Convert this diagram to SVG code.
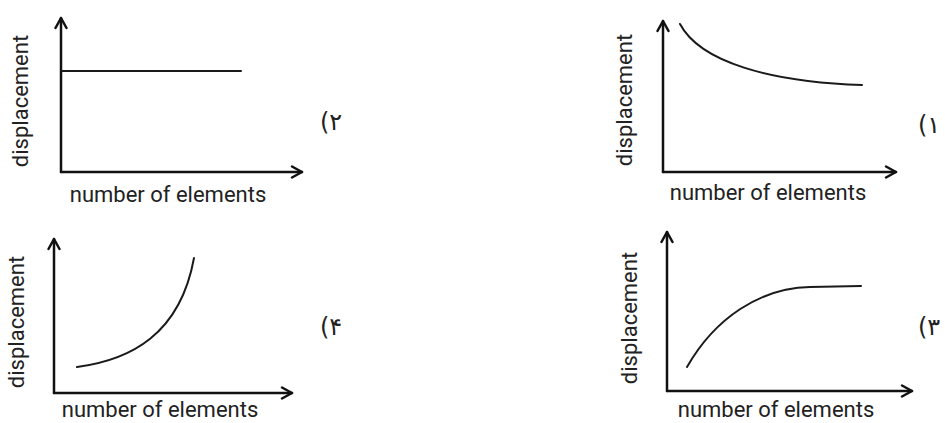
<svg xmlns="http://www.w3.org/2000/svg" width="945" height="423" viewBox="0 0 945 423">
  <style>
    .axis { fill: none; stroke: #111; stroke-width: 2.5; stroke-linecap: round; }
    .curve { fill: none; stroke: #1a1a1a; stroke-width: 2; stroke-linecap: round; }
    .lbl { font-family: Roboto, "Liberation Sans", sans-serif; font-size: 22px; fill: #222; }
    .num { font-family: "DejaVu Sans", sans-serif; font-size: 24px; fill: #222; }
  </style>
  <defs>
    <marker id="arr" viewBox="0 0 14 14" refX="12" refY="7" markerWidth="14" markerHeight="14" markerUnits="userSpaceOnUse" orient="auto">
      <path d="M2,1.5 L12,7 L2,12.5" fill="none" stroke="#111" stroke-width="2.5" stroke-linecap="round" stroke-linejoin="round"/>
    </marker>
  </defs>
  <rect width="945" height="423" fill="#ffffff"/>

  <g id="plot2">
    <path class="axis" d="M61,172 L61,18" marker-end="url(#arr)"/>
    <path class="axis" d="M61,172 L302,172" marker-end="url(#arr)"/>
    <path class="curve" d="M61,71 L241,71"/>
    <text class="lbl" transform="translate(28,101) rotate(-90)" text-anchor="middle">displacement</text>
    <text class="lbl" x="168" y="202" text-anchor="middle">number of elements</text>
    <text class="num" x="320" y="130">(۲</text>
  </g>

  <g id="plot1">
    <path class="axis" d="M663,172 L663,21" marker-end="url(#arr)"/>
    <path class="axis" d="M663,172 L896,172" marker-end="url(#arr)"/>
    <path class="curve" d="M680,24 C700,62 770,82 862,85"/>
    <text class="lbl" transform="translate(632,100) rotate(-90)" text-anchor="middle">displacement</text>
    <text class="lbl" x="768" y="200" text-anchor="middle">number of elements</text>
    <text class="num" x="918" y="133">(۱</text>
  </g>

  <g id="plot4">
    <path class="axis" d="M54,393 L54,239" marker-end="url(#arr)"/>
    <path class="axis" d="M54,393 L292,393" marker-end="url(#arr)"/>
    <path class="curve" d="M77,367 C130,360 180,335 194,258"/>
    <text class="lbl" transform="translate(24,322) rotate(-90)" text-anchor="middle">displacement</text>
    <text class="lbl" x="160" y="417" text-anchor="middle">number of elements</text>
    <text class="num" x="320" y="335">(۴</text>
  </g>

  <g id="plot3">
    <path class="axis" d="M667,391 L667,232" marker-end="url(#arr)"/>
    <path class="axis" d="M667,391 L912,391" marker-end="url(#arr)"/>
    <path class="curve" d="M687,367 C715,318 760,288 810,287 L861,286"/>
    <text class="lbl" transform="translate(637,318) rotate(-90)" text-anchor="middle">displacement</text>
    <text class="lbl" x="776" y="417" text-anchor="middle">number of elements</text>
    <text class="num" x="918" y="335">(۳</text>
  </g>
</svg>
